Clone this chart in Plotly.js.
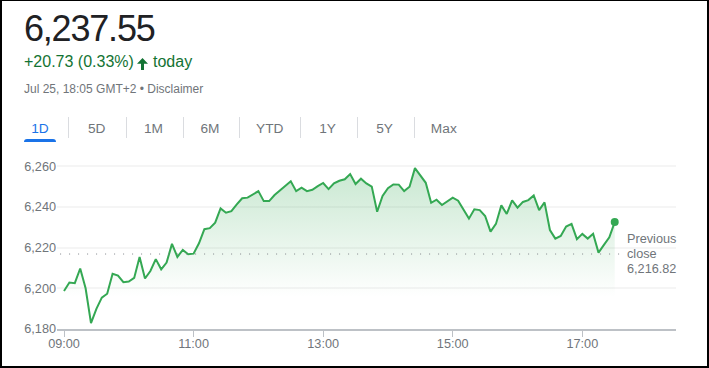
<!DOCTYPE html>
<html>
<head>
<meta charset="utf-8">
<script src="https://cdn.plot.ly/plotly-3.0.1.min.js"></script>
<style>
  html, body { margin:0; padding:0; background:#fff; }
  #wrap { position:relative; width:709px; height:368px; overflow:hidden; font-family:"Liberation Sans", Arial, sans-serif; }
  #chart { position:absolute; left:0; top:0; width:709px; height:368px; }
  .t { position:absolute; white-space:nowrap; }
  #frame { position:absolute; left:0; top:0; width:709px; height:368px; box-sizing:border-box;
           border-style:solid; border-color:#000; border-width:1px 2px 2px 2px; pointer-events:none; z-index:10; }
  .sep { position:absolute; top:117px; width:1px; height:21px; background:#dadce0; }
  .tab { position:absolute; top:121.5px; font-size:13.7px; line-height:14px; color:#70757a; transform:translateX(-50%); }
</style>
</head>
<body>
<div id="wrap">
  <div id="chart"></div>
  <div id="hdr"></div>
  <div id="frame"></div>
</div>
<script>
// ---- data ----
var quoteText = "6,237.55";
var changeText = "+20.73 (0.33%)";
var periodText = "today";
var dateText = "Jul 25, 18:05 GMT+2 \u2022 Disclaimer";
var tabLabels = ["1D", "5D", "1M", "6M", "YTD", "1Y", "5Y", "Max"];
var prevClose = 6216.82;
var day = "2024-07-25";
var times = [
  "09:00","09:05","09:10","09:15","09:20","09:25","09:30","09:35","09:40","09:45","09:50","09:55",
  "10:00","10:05","10:10","10:15","10:20","10:25","10:30","10:35","10:40","10:45","10:50","10:55",
  "11:00","11:05","11:10","11:15","11:20","11:25","11:30","11:35","11:40","11:45","11:50","11:55",
  "12:00","12:05","12:10","12:15","12:20","12:25","12:30","12:35","12:40","12:45","12:50","12:55",
  "13:00","13:05","13:10","13:15","13:20","13:25","13:30","13:35","13:40","13:45","13:50","13:55",
  "14:00","14:05","14:10","14:15","14:20","14:25","14:30","14:35","14:40","14:45","14:50","14:55",
  "15:00","15:05","15:10","15:15","15:20","15:25","15:30","15:35","15:40","15:45","15:50","15:55",
  "16:00","16:05","16:10","16:15","16:20","16:25","16:30","16:35","16:40","16:45","16:50","16:55",
  "17:00","17:05","17:10","17:15","17:20","17:25","17:30"
];
var prices = [
  6198.7,6202.8,6202.5,6209.7,6200.0,6182.9,6189.9,6195.4,6197.3,6207.1,6206.2,6203.0,
  6203.3,6205.1,6215.4,6204.8,6208.5,6214.3,6209.3,6212.6,6221.8,6215.4,6218.8,6216.7,
  6217.0,6222.1,6229.0,6229.5,6232.2,6239.2,6237.1,6237.9,6241.2,6244.2,6244.5,6246.1,
  6247.7,6242.8,6242.8,6245.8,6247.9,6250.3,6252.5,6247.7,6249.4,6247.7,6248.4,6250.2,
  6251.7,6248.7,6251.5,6252.8,6253.5,6256.1,6251.2,6253.8,6251.5,6249.9,6237.6,6245.3,
  6249.1,6251.0,6250.9,6247.7,6249.9,6259.0,6255.6,6251.8,6242.0,6243.5,6240.9,6242.5,
  6244.5,6243.0,6238.4,6234.2,6238.8,6238.4,6235.5,6227.8,6231.6,6240.7,6236.5,6243.2,
  6239.6,6242.4,6243.3,6245.6,6238.4,6242.2,6228.6,6224.4,6225.7,6230.3,6231.6,6224.1,
  6226.7,6224.4,6226.8,6217.5,6221.3,6225.0,6232.5
];
var xTicks = ["09:00","11:00","13:00","15:00","17:00"];
var yTicks = [6180, 6200, 6220, 6240, 6260];

// ---- header (HTML text) ----
var hdr = document.getElementById('hdr');
function addText(txt, css) {
  var d = document.createElement('div'); d.className = 't'; d.textContent = txt;
  d.style.cssText += css; hdr.appendChild(d); return d;
}
addText(quoteText, "left:24px;top:11.2px;font-size:36px;line-height:36px;color:#202124;letter-spacing:-1.2px;");
addText(changeText, "left:24px;top:53.5px;font-size:16px;line-height:16px;color:#137333;");
var arr = document.createElement('div');
arr.className = 't';
arr.style.cssText = "left:137px;top:55.5px;width:11px;height:12px;";
arr.innerHTML = '<svg width="11" height="12" viewBox="0 0 11 12"><path d="M5.5 0 L11 5.8 L7 5.8 L7 12 L4 12 L4 5.8 L0 5.8 Z" fill="#137333"/></svg>';
hdr.appendChild(arr);
addText(periodText, "left:153px;top:53.5px;font-size:16px;line-height:16px;color:#137333;");
addText(dateText, "left:24px;top:83.1px;font-size:12px;line-height:12px;color:#70757a;");
var tabCenters = [40, 96.7, 153.5, 210, 269.7, 327.5, 384.5, 443.8];
var sepX = [68, 125.5, 182.5, 239, 300, 357, 414];
tabLabels.forEach(function (lab, i) {
  var d = document.createElement('div'); d.className = 'tab'; d.textContent = lab;
  d.style.left = tabCenters[i] + 'px';
  if (i === 0) d.style.color = '#1a73e8';
  hdr.appendChild(d);
});
sepX.forEach(function (x) {
  var s = document.createElement('div'); s.className = 'sep'; s.style.left = x + 'px'; hdr.appendChild(s);
});
var ul = document.createElement('div');
ul.style.cssText = "position:absolute;left:24px;top:138.5px;width:32px;height:3.5px;background:#1a73e8;border-radius:3px 3px 0 0;";
hdr.appendChild(ul);

// ---- chart ----
var xs = times.map(function (t) { return day + " " + t; });
var green = '#34a853';
var fmt = function (v) { return v.toLocaleString('en-US', {minimumFractionDigits: 2, maximumFractionDigits: 2}); };

var lineTrace = {
  x: xs, y: prices, type: 'scatter', mode: 'lines',
  line: {color: green, width: 2},
  fill: 'tozeroy',
  fillgradient: {type: 'vertical', start: 6196, stop: 6262,
    colorscale: [[0, 'rgba(52,168,83,0)'], [1, 'rgba(52,168,83,0.28)']]},
  hoverinfo: 'skip'
};
var lastTrace = {
  x: [xs[xs.length - 1]], y: [prices[prices.length - 1]], type: 'scatter', mode: 'markers',
  marker: {color: green, size: 8}, hoverinfo: 'skip'
};

var tickFont = {family: '"Liberation Sans", Arial, sans-serif', size: 12.7, color: '#70757a'};
var layout = {
  width: 709, height: 368,
  margin: {l: 57, r: 33, t: 161, b: 39, pad: 0},
  paper_bgcolor: 'rgba(0,0,0,0)', plot_bgcolor: 'rgba(0,0,0,0)',
  showlegend: false,
  xaxis: {
    type: 'date',
    range: [day + ' 08:53:31', day + ' 18:26:45'],
    tickvals: xTicks.map(function (t) { return day + ' ' + t; }),
    ticktext: xTicks,
    ticks: 'outside', ticklen: 6, tickwidth: 1, tickcolor: '#bdc1c6',
    ticklabelstandoff: -4,
    showline: true, linecolor: '#bdc1c6', linewidth: 2,
    showgrid: false, zeroline: false,
    tickfont: tickFont, fixedrange: true
  },
  yaxis: {
    range: [6180, 6262.5],
    tickvals: yTicks,
    ticktext: yTicks.map(function (v) { return v.toLocaleString('en-US'); }),
    ticks: '', showline: false, zeroline: false,
    showgrid: true, gridcolor: '#f5f5f5', gridwidth: 2,
    tickfont: tickFont, fixedrange: true
  },
  shapes: [{
    type: 'line', xref: 'paper', yref: 'y',
    x0: 0.005, x1: 0.909, y0: prevClose, y1: prevClose,
    line: {color: '#80868b', width: 1, dash: '1px,8px'}
  }],
  annotations: [
    {text: 'Previous', xref: 'paper', yref: 'y', x: 0.9176, y: prevClose, yshift: 15, xanchor: 'left', yanchor: 'middle', showarrow: false, font: {family: tickFont.family, size: 12.7, color: '#70757a'}},
    {text: 'close', xref: 'paper', yref: 'y', x: 0.9176, y: prevClose, yshift: 0, xanchor: 'left', yanchor: 'middle', showarrow: false, font: {family: tickFont.family, size: 12.7, color: '#70757a'}},
    {text: fmt(prevClose), xref: 'paper', yref: 'y', x: 0.9176, y: prevClose, yshift: -15, xanchor: 'left', yanchor: 'middle', showarrow: false, font: {family: tickFont.family, size: 12.7, color: '#70757a'}}
  ]
};

Plotly.newPlot('chart', [lineTrace, lastTrace], layout, {staticPlot: true, displayModeBar: false});
</script>
</body>
</html>
